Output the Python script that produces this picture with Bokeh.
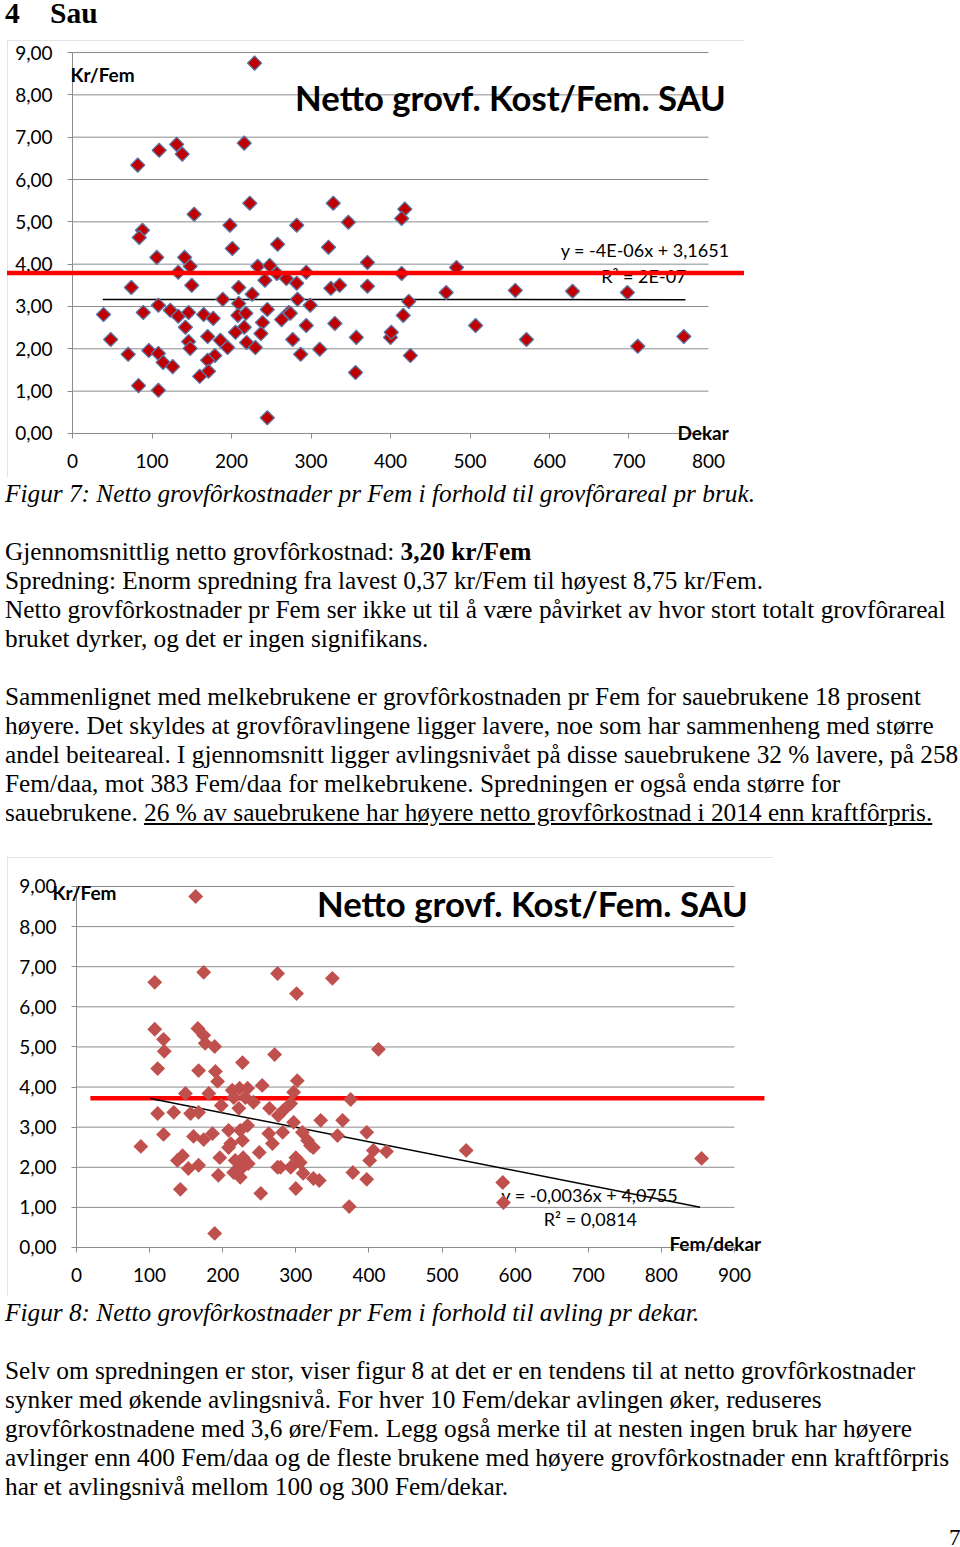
import math
from bokeh.plotting import figure
from bokeh.models import Div, Label, Range1d, FixedTicker
from bokeh.layouts import column
from bokeh.embed import file_html
from bokeh.resources import INLINE
from bokeh.core.properties import value

# ---------------- data: Figur 7 (kost/Fem vs grovfôrareal, dekar) ----------------
areal_dekar = [229, 82, 109, 131, 138, 216, 223, 153, 198, 282, 88, 84, 328, 347, 418, 414,
               106, 141, 148, 133, 74, 150, 201, 258, 233, 248, 257, 242, 269, 282, 209, 226,
               189, 209, 283, 39, 89, 108, 123, 133, 146, 165, 177, 142, 208, 218, 245, 272,
               263, 239, 216, 205, 170, 186, 237, 219, 230, 277, 195, 146, 148, 48, 96, 108,
               114, 126, 70, 179, 170, 171, 160, 83, 108, 245, 287, 322, 371, 414, 483, 294,
               325, 336, 371, 470, 557, 299, 423, 416, 294, 330, 507, 357, 400, 401, 571, 311,
               425, 356, 629, 698, 711, 769, 274]
kost_fig7 = [8.75, 6.34, 6.69, 6.83, 6.60, 6.86, 5.44, 5.18, 4.92, 4.92, 4.80, 4.63, 5.44, 4.99, 5.30, 5.08,
             4.16, 4.16, 3.95, 3.81, 3.45, 3.50, 4.37, 4.47, 3.95, 3.97, 3.78, 3.62, 3.66, 3.55, 3.45, 3.29,
             3.17, 3.07, 3.17, 2.81, 2.86, 3.03, 2.91, 2.77, 2.86, 2.81, 2.72, 2.51, 2.79, 2.84, 2.93, 2.86,
             2.69, 2.62, 2.51, 2.39, 2.29, 2.20, 2.36, 2.15, 2.03, 2.22, 2.03, 2.17, 2.01, 2.22, 1.96, 1.89,
             1.68, 1.58, 1.87, 1.84, 1.73, 1.47, 1.35, 1.13, 1.02, 0.37, 1.87, 4.40, 4.04, 3.78, 3.92, 3.81,
             3.43, 3.50, 3.48, 3.33, 3.38, 3.03, 3.12, 2.79, 2.55, 2.60, 2.55, 2.27, 2.27, 2.39, 2.22, 1.99,
             1.84, 1.44, 3.36, 3.33, 2.06, 2.29, 2.84]

# ---------------- data: Figur 8 (kost/Fem vs avling, Fem/dekar) ----------------
avling_fem_dekar = [163, 107, 174, 275, 350, 301, 107, 119, 120, 166, 174, 176, 189, 227, 271, 413,
                    111, 167, 190, 193, 254, 213, 223, 234, 149, 181, 215, 231, 242, 111, 133, 156,
                    167, 198, 222, 264, 276, 119, 160, 174, 186, 208, 224, 234, 263, 211, 227, 268,
                    88, 208, 145, 138, 153, 167, 196, 217, 228, 227, 235, 250, 275, 194, 215, 224,
                    142, 252, 189, 302, 297, 375, 293, 283, 334, 364, 297, 397, 282, 309, 316, 357,
                    320, 324, 406, 424, 401, 300, 306, 293, 279, 378, 310, 324, 332, 397, 300, 373,
                    533, 583, 584, 855]
kost_fig8 = [8.75, 6.61, 6.86, 6.83, 6.71, 6.33, 5.44, 5.19, 4.89, 5.46, 5.29, 5.09, 5.01, 4.61, 4.81, 4.94,
             4.46, 4.41, 4.39, 4.14, 4.04, 3.92, 3.97, 3.97, 3.84, 3.84, 3.74, 3.74, 3.62, 3.34, 3.37, 3.34,
             3.37, 3.54, 3.47, 3.47, 3.29, 2.82, 2.77, 2.69, 2.84, 2.92, 2.92, 3.04, 2.84, 2.59, 2.67, 2.59,
             2.52, 2.49, 2.29, 2.17, 1.97, 2.05, 2.24, 2.17, 2.24, 2.00, 2.09, 2.37, 2.00, 1.80, 1.87, 1.75,
             1.45, 1.35, 0.35, 4.16, 3.87, 3.69, 3.59, 3.42, 3.17, 3.17, 3.12, 2.87, 2.87, 2.87, 2.67, 2.79,
             2.54, 2.49, 2.42, 2.39, 2.17, 2.24, 2.12, 2.00, 2.00, 1.87, 1.85, 1.72, 1.67, 1.70, 1.47, 1.02,
             2.42, 1.62, 1.12, 2.22]

kraftforpris_fig7 = 3.79
kraftforpris_fig8 = 3.72
kraftfor_span_fig7 = [-84, 845]
kraftfor_span_fig8 = [19, 941]
trend_fig7 = (-4e-06, 3.1651)
trend_fig8 = (-0.0036, 4.0755)
trend_x_fig7 = [38, 771]
trend_x_fig8 = [101, 853]

y_ticks = [0, 1, 2, 3, 4, 5, 6, 7, 8, 9]
y_tick_labels = ["0,00", "1,00", "2,00", "3,00", "4,00", "5,00", "6,00", "7,00", "8,00", "9,00"]
x_ticks_fig7 = [0, 100, 200, 300, 400, 500, 600, 700, 800]
x_ticks_fig8 = [0, 100, 200, 300, 400, 500, 600, 700, 800, 900]

CHART_FONT = "Lato"
GRID = "#8C8C8C"


def make_chart(width, height, x_view, y_view, x_max, x_ticks, left_margin):
    # the frame covers the whole chart box; the axes sit at x=0 / y=0 inside it
    p = figure(width=width, height=height, x_range=Range1d(*x_view), y_range=Range1d(*y_view),
               min_border=0, output_backend="svg", toolbar_location=None,
               margin=(0, 0, 0, left_margin))
    p.outline_line_color = None
    p.background_fill_color = "white"
    p.border_fill_color = "white"
    p.styles = {"outline": "1px solid #C8C8C8", "outline-offset": "-1px"}
    p.xgrid.visible = False
    p.ygrid.visible = False
    p.segment(x0=[0] * len(y_ticks), y0=y_ticks, x1=[x_max] * len(y_ticks), y1=y_ticks,
              line_color=GRID, line_width=1)
    for ax, ticks, labels, bounds, standoff in (
            (p.xaxis[0], x_ticks, [str(t) for t in x_ticks], (0, x_max), 16),
            (p.yaxis[0], y_ticks, y_tick_labels, (0, 9), 15)):
        ax.fixed_location = 0
        ax.bounds = bounds
        ax.ticker = FixedTicker(ticks=ticks)
        ax.major_label_overrides = dict(zip(ticks, labels))
        ax.axis_line_color = GRID
        ax.major_tick_line_color = GRID
        ax.major_tick_out = 5
        ax.major_tick_in = 0
        ax.minor_tick_line_color = None
        ax.major_label_text_font = CHART_FONT
        ax.major_label_text_font_size = "19px"
        ax.major_label_text_color = "black"
        ax.major_label_standoff = standoff
    return p


def add_label(p, x, y, text, size, bold=False, align="left"):
    p.add_layout(Label(x=x, y=y, text=text, text_font=CHART_FONT, text_font_size=size,
                       text_font_style="bold" if bold else "normal", text_align=align,
                       text_baseline="middle", text_color="black"))


def add_equation(p, xs, ys, texts, align):
    p.text(x=xs, y=ys, text=texts, text_font=value(CHART_FONT), text_font_size="18px",
           text_align=align, text_baseline="middle", text_color="black")


# ---------------- Figur 7 ----------------
p1 = make_chart(737, 437, (-81.8, 845.3), (-1.04, 9.284), 800, x_ticks_fig7, 7)
add_equation(p1, [614, 665], [4.33, 3.71], ["y = -4E-06x + 3,1651", "R² = 2E-07"], "left")
p1.line(trend_x_fig7, [trend_fig7[0] * x + trend_fig7[1] for x in trend_x_fig7],
        line_color="black", line_width=1.5)
p1.scatter(areal_dekar, kost_fig7, marker="square", angle=math.pi / 4, size=10,
           fill_color="#C00000", line_color="#5A78A8", line_width=1.3)
p1.line(kraftfor_span_fig7, [kraftforpris_fig7] * 2, line_color="#FF0000", line_width=4.5,
        level="annotation")
add_label(p1, -2.5, 8.49, "Kr/Fem", "19px", bold=True)
add_label(p1, 280, 7.94, "Netto grovf. Kost/Fem. SAU", "34.7px", bold=True)
add_label(p1, 761, 0.02, "Dekar", "19px", bold=True)

# ---------------- Figur 8 ----------------
p2 = make_chart(766, 439, (-94.4, 953.4), (-1.222, 9.723), 900, x_ticks_fig8, 7)
p2.line(kraftfor_span_fig8, [kraftforpris_fig8] * 2, line_color="#FF0000", line_width=4.5)
add_equation(p2, [702, 703], [1.32, 0.70], ["y = -0,0036x + 4,0755", "R² = 0,0814"], "center")
p2.line(trend_x_fig8, [trend_fig8[0] * x + trend_fig8[1] for x in trend_x_fig8],
        line_color="black", line_width=1.5)
p2.scatter(avling_fem_dekar, kost_fig8, marker="square", angle=math.pi / 4, size=10.5,
           fill_color="#C0504D", line_color=None)
add_label(p2, -33, 8.85, "Kr/Fem", "19px", bold=True)
add_label(p2, 329, 8.58, "Netto grovf. Kost/Fem. SAU", "34.7px", bold=True)
add_label(p2, 811, 0.10, "Fem/dekar", "19px", bold=True)

# ---------------- text blocks ----------------
SERIF = "font-family:'Liberation Serif','Times New Roman',serif;color:#000;"
BODY = SERIF + "font-size:25.3px;line-height:29px;white-space:nowrap;margin:0;padding:0 0 0 5px;"

heading = Div(width=955, height=40, styles={"margin": "0"}, text=(
    f"<div style=\"{SERIF}font-size:29.5px;font-weight:bold;line-height:26px;white-space:nowrap;"
    "padding-left:5px\"><span style='display:inline-block;width:45px'>4</span>Sau</div>"))

mid_lines = [
    "<i>Figur 7: Netto grovfôrkostnader pr Fem i forhold til grovfôrareal pr bruk.</i>",
    "&nbsp;",
    "Gjennomsnittlig netto grovfôrkostnad: <b>3,20 kr/Fem</b>",
    "Spredning: Enorm spredning fra lavest 0,37 kr/Fem til høyest 8,75 kr/Fem.",
    "Netto grovfôrkostnader pr Fem ser ikke ut til å være påvirket av hvor stort totalt grovfôrareal",
    "bruket dyrker, og det er ingen signifikans.",
    "&nbsp;",
    "Sammenlignet med melkebrukene er grovfôrkostnaden pr Fem for sauebrukene 18 prosent",
    "høyere. Det skyldes at grovfôravlingene ligger lavere, noe som har sammenheng med større",
    "andel beiteareal. I gjennomsnitt ligger avlingsnivået på disse sauebrukene 32 % lavere, på 258",
    "Fem/daa, mot 383 Fem/daa for melkebrukene. Spredningen er også enda større for",
    "sauebrukene. <u>26 % av sauebrukene har høyere netto grovfôrkostnad i 2014 enn kraftfôrpris.</u>",
]
bottom_lines = [
    "<i>Figur 8: Netto grovfôrkostnader pr Fem i forhold til avling pr dekar.</i>",
    "&nbsp;",
    "Selv om spredningen er stor, viser figur 8 at det er en tendens til at netto grovfôrkostnader",
    "synker med økende avlingsnivå. For hver 10 Fem/dekar avlingen øker, reduseres",
    "grovfôrkostnadene med 3,6 øre/Fem. Legg også merke til at nesten ingen bruk har høyere",
    "avlinger enn 400 Fem/daa og de fleste brukene med høyere grovfôrkostnader enn kraftfôrpris",
    "har et avlingsnivå mellom 100 og 300 Fem/dekar.",
]


def text_block(lines, height, extra=""):
    body = "".join(f"<div>{ln}</div>" for ln in lines)
    return Div(width=955, height=height, styles={"margin": "0"},
               text=f"<div style=\"{BODY}padding-top:2px\">{body}</div>{extra}")


mid = text_block(mid_lines, 380)
page_no = (f"<div style=\"{SERIF}font-size:23px;line-height:24px;position:absolute;left:949px;"
           "top:230px\">7</div>")
bottom = text_block(bottom_lines, 250, page_no)

layout = column(heading, p1, mid, p2, bottom, spacing=0)
open("out.html", "w").write(file_html(layout, INLINE))
